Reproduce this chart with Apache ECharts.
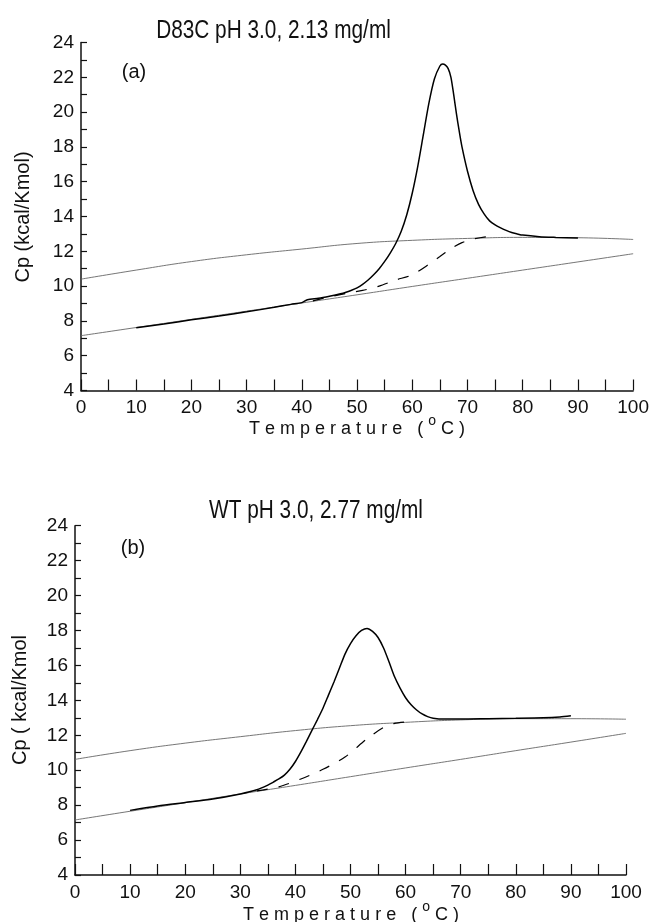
<!DOCTYPE html>
<html>
<head>
<meta charset="utf-8">
<script src="https://cdn.jsdelivr.net/npm/echarts@6/dist/echarts.min.js"></script>
<style>html,body{margin:0;padding:0;background:#fff}#c{width:652px;height:922px}</style>
</head>
<body>
<div id="c"></div>
<script>
// ---------- Panel (a): D83C ----------
const titleA = 'D83C pH 3.0, 2.13 mg/ml';
const baseT = [0, 10, 20, 30, 40, 50, 60, 70, 80, 90, 100];
const upperA = [10.4, 10.92, 11.41, 11.8, 12.13, 12.45, 12.63, 12.74, 12.8, 12.78, 12.68];
const lowerA = [7.15, 7.62, 8.09, 8.56, 9.03, 9.5, 9.98, 10.45, 10.92, 11.39, 11.86];
const mainA_T = [10, 15, 20, 25, 30, 35, 38, 40, 41, 43, 45, 47, 48, 49, 50, 51, 52, 53, 54, 55, 56, 57, 58, 59, 60, 61, 62, 63, 64, 65, 65.5, 66, 66.5, 67, 67.5, 68, 68.5, 69, 70, 71, 72, 73, 74, 75, 76, 77, 78, 79, 80, 83, 86, 90];
const mainA_Cp = [7.6, 7.82, 8.06, 8.28, 8.52, 8.78, 8.95, 9.05, 9.22, 9.3, 9.42, 9.56, 9.65, 9.76, 9.9, 10.1, 10.35, 10.65, 11.0, 11.42, 11.9, 12.45, 13.15, 14.1, 15.35, 16.9, 18.7, 20.5, 21.9, 22.65, 22.76, 22.7, 22.5, 22.0, 21.0, 19.9, 18.9, 18.0, 16.6, 15.5, 14.7, 14.15, 13.75, 13.52, 13.35, 13.2, 13.08, 13.0, 12.93, 12.84, 12.8, 12.76];
const dashA_T = [42, 45, 48, 51, 54, 57, 60, 63, 65, 67, 69, 71, 73, 75];
const dashA_Cp = [9.15, 9.38, 9.58, 9.75, 10.0, 10.35, 10.65, 11.25, 11.7, 12.15, 12.5, 12.7, 12.82, 12.85];

// ---------- Panel (b): WT ----------
const titleB = 'WT pH 3.0, 2.77 mg/ml';
const upperB = [10.62, 11.12, 11.55, 11.92, 12.27, 12.55, 12.74, 12.88, 12.95, 12.95, 12.92];
const lowerB = [7.15, 7.65, 8.14, 8.64, 9.13, 9.63, 10.13, 10.62, 11.12, 11.61, 12.11];
const mainB_T = [10, 15, 20, 25, 30, 33, 35, 36, 37, 38, 39, 40, 41, 42, 43, 44, 45, 46, 47, 48, 49, 50, 51, 52, 53, 54, 55, 56, 57, 58, 59, 60, 61, 62, 63, 64, 65, 67, 70, 75, 80, 85, 88, 90];
const mainB_Cp = [7.7, 7.95, 8.15, 8.35, 8.64, 8.88, 9.15, 9.32, 9.5, 9.72, 10.05, 10.5, 11.05, 11.65, 12.28, 12.9, 13.55, 14.3, 15.05, 15.85, 16.65, 17.25, 17.7, 18.0, 18.12, 17.95, 17.6, 17.0, 16.2, 15.35, 14.7, 14.15, 13.75, 13.45, 13.22, 13.07, 12.98, 12.93, 12.93, 12.95, 12.97, 13.0, 13.05, 13.12];
const dashB_T = [33, 37, 41, 45, 49, 53, 56, 58, 60];
const dashB_Cp = [8.82, 9.05, 9.5, 10.05, 10.75, 11.8, 12.45, 12.68, 12.76];

// axis ticks
const xMin = 0, xMax = 100, xStep = 5, xLabelStep = 10;
const yMin = 4, yMax = 24, yStep = 1, yLabelStep = 2;

const pair = (xs, ys) => xs.map((x, i) => [x, ys[i]]);

const FONT = "'Liberation Sans', Arial, sans-serif";
const INK = '#111';

function xAx(gi) {
  return {
    type: 'value', gridIndex: gi, min: xMin, max: xMax, interval: xStep,
    axisLine: { show: true, onZero: false, lineStyle: { color: INK, width: 1.5 } },
    axisTick: { show: true, inside: true, length: 11, lineStyle: { color: INK, width: 1.2 } },
    axisLabel: { fontSize: 19, color: INK, fontFamily: FONT, margin: 8,
      formatter: v => (v % xLabelStep === 0 ? String(v) : '') },
    splitLine: { show: false }
  };
}
function yAx(gi) {
  return {
    type: 'value', gridIndex: gi, min: yMin, max: yMax, interval: yStep,
    axisLine: { show: true, onZero: false, lineStyle: { color: INK, width: 1.5 } },
    axisTick: { show: true, inside: true, length: 6, lineStyle: { color: INK, width: 1.2 } },
    axisLabel: { fontSize: 19, color: INK, fontFamily: FONT, margin: 7,
      formatter: v => (v % yLabelStep === 0 ? String(v) : '') },
    splitLine: { show: false }
  };
}
function line(gi, data, opts) {
  return Object.assign({
    type: 'line', xAxisIndex: gi, yAxisIndex: gi, data: data, showSymbol: false,
    symbol: 'none', animation: false, silent: true
  }, opts);
}
const baseStyle = { smooth: true, lineStyle: { color: '#666', width: 0.9 } };
const mainStyle = { smooth: 0.25, lineStyle: { color: '#000', width: 1.5 } };
const dashStyle = { smooth: 0.25, lineStyle: { color: '#000', width: 1.2, type: [11, 11] } };

function tempLabel(cx, cy) {
  return {
    type: 'text', x: cx, y: cy,
    style: {
      text: '{t|T e m p e r a t u r e   ( }{s|o}{t| C )}',
      align: 'center', verticalAlign: 'middle',
      rich: {
        t: { fontSize: 18, fontFamily: FONT, fill: INK, lineHeight: 24, verticalAlign: 'bottom' },
        s: { fontSize: 14, fontFamily: FONT, fill: INK, lineHeight: 14, verticalAlign: 'top' }
      }
    }
  };
}
function title(text, cx, cy) {
  return { type: 'text', x: cx, y: cy, scaleX: 0.8,
    style: { text: text, font: '26px ' + FONT, fill: INK, align: 'center', verticalAlign: 'middle' } };
}

const option = {
  backgroundColor: '#fff',
  animation: false,
  grid: [
    { left: 81, right: 18, top: 42.5, height: 348 },
    { left: 75, right: 26, top: 525.7, height: 349.3 }
  ],
  xAxis: [xAx(0), xAx(1)],
  yAxis: [yAx(0), yAx(1)],
  series: [
    line(0, pair(baseT, upperA), baseStyle),
    line(0, pair(baseT, lowerA), baseStyle),
    line(0, pair(dashA_T, dashA_Cp), dashStyle),
    line(0, pair(mainA_T, mainA_Cp), mainStyle),
    line(1, pair(baseT, upperB), baseStyle),
    line(1, pair(baseT, lowerB), baseStyle),
    line(1, pair(dashB_T, dashB_Cp), dashStyle),
    line(1, pair(mainB_T, mainB_Cp), mainStyle)
  ],
  graphic: [
    title(titleA, 273.5, 31),
    title(titleB, 316, 511),
    { type: 'text', x: 134, y: 72, style: { text: '(a)', font: '20px ' + FONT, fill: INK, align: 'center', verticalAlign: 'middle' } },
    { type: 'text', x: 133, y: 548, style: { text: '(b)', font: '20px ' + FONT, fill: INK, align: 'center', verticalAlign: 'middle' } },
    { type: 'text', x: 23, y: 217, rotation: Math.PI / 2, style: { text: 'Cp (kcal/Kmol)', font: '20px ' + FONT, fill: INK, align: 'center', verticalAlign: 'middle' } },
    { type: 'text', x: 20, y: 700, rotation: Math.PI / 2, style: { text: 'Cp ( kcal/Kmol', font: '20px ' + FONT, fill: INK, align: 'center', verticalAlign: 'middle' } },
    tempLabel(357, 426),
    tempLabel(351, 912)
  ]
};
const chart = echarts.init(document.getElementById('c'), null, { renderer: 'canvas' });
chart.setOption(option);
</script>
</body>
</html>
